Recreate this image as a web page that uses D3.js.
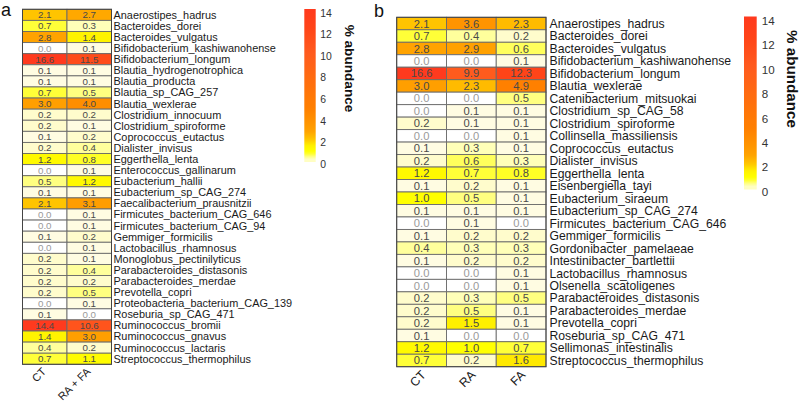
<!DOCTYPE html>
<html>
<head>
<meta charset="utf-8">
<script src="https://cdn.jsdelivr.net/npm/d3@7"></script>
<style>
  html, body { margin: 0; padding: 0; background: #fff; }
  svg { display: block; font-family: "Liberation Sans", Arial, sans-serif; }
</style>
</head>
<body>
<svg id="chart" width="800" height="403"></svg>
<script>
// ---------------- data ----------------
const speciesA = [
  "Anaerostipes_hadrus","Bacteroides_dorei","Bacteroides_vulgatus","Bifidobacterium_kashiwanohense",
  "Bifidobacterium_longum","Blautia_hydrogenotrophica","Blautia_producta","Blautia_sp_CAG_257",
  "Blautia_wexlerae","Clostridium_innocuum","Clostridium_spiroforme","Coprococcus_eutactus",
  "Dialister_invisus","Eggerthella_lenta","Enterococcus_gallinarum","Eubacterium_hallii",
  "Eubacterium_sp_CAG_274","Faecalibacterium_prausnitzii","Firmicutes_bacterium_CAG_646",
  "Firmicutes_bacterium_CAG_94","Gemmiger_formicilis","Lactobacillus_rhamnosus",
  "Monoglobus_pectinilyticus","Parabacteroides_distasonis","Parabacteroides_merdae",
  "Prevotella_copri","Proteobacteria_bacterium_CAG_139","Roseburia_sp_CAG_471",
  "Ruminococcus_bromii","Ruminococcus_gnavus","Ruminococcus_lactaris","Streptococcus_thermophilus"
];
const groupsA = ["CT", "RA + FA"];
const ctA   = [2.1,0.7,2.8,0.0,16.6,0.1,0.1,0.7,3.0,0.2,0.2,0.1,0.2,1.2,0.0,0.5,0.1,2.1,0.0,0.0,0.1,0.0,0.2,0.2,0.2,0.2,0.0,0.1,14.4,1.4,0.4,0.7];
const rafaA = [2.7,0.3,1.4,0.1,11.5,0.1,0.1,0.5,4.0,0.2,0.1,0.2,0.4,0.8,0.1,1.2,0.1,3.1,0.1,0.1,0.2,0.1,0.1,0.4,0.2,0.5,0.1,0.0,10.6,3.0,0.2,1.1];

const speciesB = [
  "Anaerostipes_hadrus","Bacteroides_dorei","Bacteroides_vulgatus","Bifidobacterium_kashiwanohense",
  "Bifidobacterium_longum","Blautia_wexlerae","Catenibacterium_mitsuokai","Clostridium_sp_CAG_58",
  "Clostridium_spiroforme","Collinsella_massiliensis","Coprococcus_eutactus","Dialister_invisus",
  "Eggerthella_lenta","Eisenbergiella_tayi","Eubacterium_siraeum","Eubacterium_sp_CAG_274",
  "Firmicutes_bacterium_CAG_646","Gemmiger_formicilis","Gordonibacter_pamelaeae",
  "Intestinibacter_bartlettii","Lactobacillus_rhamnosus","Olsenella_scatoligenes",
  "Parabacteroides_distasonis","Parabacteroides_merdae","Prevotella_copri",
  "Roseburia_sp_CAG_471","Sellimonas_intestinalis","Streptococcus_thermophilus"
];
const groupsB = ["CT", "RA", "FA"];
const ctB = [2.1,0.7,2.8,0.0,16.6,3.0,0.0,0.0,0.2,0.0,0.1,0.2,1.2,0.1,1.0,0.1,0.0,0.1,0.4,0.1,0.0,0.0,0.2,0.2,0.2,0.1,1.2,0.7];
const raB = [3.6,0.4,2.9,0.0,9.9,2.3,0.0,0.1,0.1,0.0,0.3,0.6,0.7,0.2,0.5,0.1,0.1,0.2,0.3,0.2,0.0,0.0,0.3,0.5,1.5,0.0,1.0,0.2];
const faB = [2.3,0.2,0.6,0.1,12.3,4.9,0.5,0.1,0.1,0.1,0.1,0.3,0.8,0.1,0.1,0.1,0.0,0.2,0.3,0.2,0.1,0.1,0.5,0.1,0.1,0.0,0.7,1.6];

const legendTicks = [0, 2, 4, 6, 8, 10, 12, 14];
const legendTitle = "% abundance";

// ---------------- colour scale ----------------
const color = d3.scaleLinear()
  .domain([0, 0.1, 0.2, 0.3, 0.5, 0.7, 1.0, 1.5, 2.1, 2.8, 3.6, 4.9, 10, 12.3, 14])
  .range(["#ffffff","#fffce2","#fffccc","#ffffb8","#ffff80","#ffff38","#ffff00","#fff000",
          "#ffc400","#ffa300","#ff9400","#ff8000","#ff5a1e","#ff4418","#ff3a1e"])
  .clamp(true);

const svg = d3.select("#chart");

function heatmap(cfg) {
  const g = svg.append("g");
  const rows = d3.scaleBand().domain(cfg.species).range([cfg.y0, cfg.y1]);
  const cols = d3.scaleBand().domain(cfg.groups).range([cfg.x0, cfg.x1]);
  const cells = [];
  cfg.species.forEach((s, i) => {
    cfg.groups.forEach((grp, j) => cells.push({s, grp, v: cfg.values[j][i]}));
  });
  g.selectAll("rect.cell").data(cells).join("rect")
    .attr("class", "cell")
    .attr("x", d => cols(d.grp))
    .attr("y", d => rows(d.s))
    .attr("width", cols.bandwidth())
    .attr("height", rows.bandwidth())
    .attr("fill", d => color(d.v))
    .attr("stroke", "#6a6a6a")
    .attr("stroke-width", 0.9);
  g.selectAll("text.val").data(cells).join("text")
    .attr("class", "val")
    .attr("x", d => cols(d.grp) + cols.bandwidth() / 2)
    .attr("y", d => rows(d.s) + rows.bandwidth() / 2)
    .attr("dy", "0.36em")
    .attr("text-anchor", "middle")
    .attr("font-size", cfg.valSize)
    .attr("fill", d => d.v === 0 ? "#9a9a9a" : "#4a4a4a")
    .text(d => d.v.toFixed(1));
  // outer border
  g.append("rect")
    .attr("x", cfg.x0).attr("y", cfg.y0)
    .attr("width", cfg.x1 - cfg.x0).attr("height", cfg.y1 - cfg.y0)
    .attr("fill", "none").attr("stroke", "#444").attr("stroke-width", 1);
  // row labels
  g.selectAll("text.lab").data(cfg.species).join("text")
    .attr("class", "lab")
    .attr("x", cfg.x1 + cfg.labGap)
    .attr("y", d => rows(d) + rows.bandwidth() / 2)
    .attr("dy", "0.36em")
    .attr("font-size", cfg.labSize)
    .attr("fill", "#1a1a1a")
    .text(d => d);
  // column labels (rotated)
  g.selectAll("text.col").data(cfg.groups).join("text")
    .attr("class", "col")
    .attr("text-anchor", "end")
    .attr("font-size", cfg.colSize)
    .attr("fill", "#1a1a1a")
    .attr("transform", d => `translate(${cols(d) + cols.bandwidth() / 2 + cfg.colDx},${cfg.y1 + cfg.colDy}) rotate(-45)`)
    .text(d => d);
  // panel letter
  svg.append("text")
    .attr("x", cfg.letterX).attr("y", cfg.letterY)
    .attr("font-size", cfg.letterSize)
    .attr("fill", "#111")
    .text(cfg.letter);
}

function legend(cfg) {
  const g = svg.append("g");
  const y = d3.scaleLinear().domain([0, 14]).range([cfg.yb, cfg.yt]);
  const gradId = "grad" + cfg.id;
  const grad = svg.append("defs").append("linearGradient")
    .attr("id", gradId).attr("x1", 0).attr("y1", 1).attr("x2", 0).attr("y2", 0);
  d3.range(0, 14.01, 0.25).forEach(v => {
    grad.append("stop").attr("offset", v / 14).attr("stop-color", color(Math.max(v, 0.25)));
  });
  g.append("rect")
    .attr("x", cfg.x).attr("y", y(14) - 2)
    .attr("width", cfg.w).attr("height", y(0) - y(14) + 2)
    .attr("fill", `url(#${gradId})`);
  const ax = g.append("g")
    .attr("transform", `translate(${cfg.x + cfg.w},0)`)
    .call(d3.axisRight(y).tickValues(legendTicks).tickSize(0).tickPadding(cfg.pad));
  ax.select(".domain").remove();
  ax.selectAll("text")
    .attr("font-size", cfg.tickSize)
    .attr("font-family", "Liberation Sans, Arial, sans-serif")
    .attr("fill", "#333")
    .attr("dy", "0.5em");
  g.append("text")
    .attr("transform", `translate(${cfg.tx},${cfg.ty}) rotate(90)`)
    .attr("text-anchor", "middle")
    .attr("font-size", cfg.titleSize)
    .attr("font-weight", "bold")
    .attr("fill", "#111")
    .text(legendTitle);
}

heatmap({
  species: speciesA, groups: groupsA, values: [ctA, rafaA],
  x0: 22.5, x1: 111.5, y0: 9.3, y1: 364.3,
  valSize: 9.8, labSize: 10.9, labGap: 2, colSize: 11, colDx: 2, colDy: 8,
  letter: "a", letterX: 1, letterY: 16, letterSize: 18
});
heatmap({
  species: speciesB, groups: groupsB, values: [ctB, raB, faB],
  x0: 396.7, x1: 546, y0: 17.3, y1: 366.7,
  valSize: 11.2, labSize: 12.2, labGap: 3.5, colSize: 12.4, colDx: 5, colDy: 9,
  letter: "b", letterX: 374, letterY: 17, letterSize: 18
});
legend({ id: "a", x: 304.3, w: 11.4, yb: 162, yt: 11, pad: 4.5, tickSize: 10.4,
         tx: 345, ty: 68.5, titleSize: 13.6 });
legend({ id: "b", x: 744, w: 12.7, yb: 189.5, yt: 18.5, pad: 5, tickSize: 11.6,
         tx: 787, ty: 79, titleSize: 15.2 });
</script>
</body>
</html>
